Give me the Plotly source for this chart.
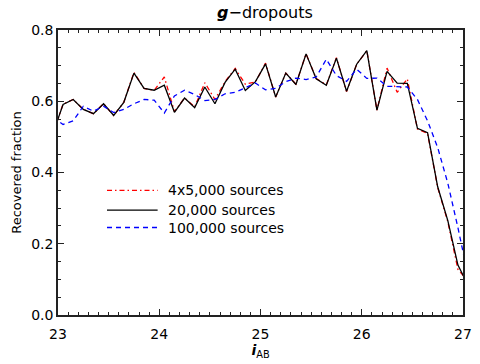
import plotly.graph_objects as go

# Magnitude bin centres (0.1 mag bins); the outermost bins fall just outside the axis range
mag = [22.95, 23.05, 23.15, 23.25, 23.35, 23.45, 23.55, 23.65, 23.75, 23.85,
       23.95, 24.05, 24.15, 24.25, 24.35, 24.45, 24.55, 24.65, 24.75, 24.85,
       24.95, 25.05, 25.15, 25.25, 25.35, 25.45, 25.55, 25.65, 25.75, 25.85,
       25.95, 26.05, 26.15, 26.25, 26.35, 26.45, 26.55, 26.65, 26.75, 26.85,
       26.95, 27.05]

# Recovered fraction for three simulation setups
frac_4x5000 = [0.51, 0.592, 0.605, 0.577, 0.565, 0.593, 0.560, 0.597, 0.681, 0.636,
               0.631, 0.668, 0.571, 0.609, 0.584, 0.652, 0.605, 0.655, 0.692, 0.648,
               0.654, 0.707, 0.612, 0.679, 0.648, 0.733, 0.664, 0.646, 0.722, 0.627,
               0.704, 0.742, 0.575, 0.693, 0.625, 0.663, 0.522, 0.510, 0.358, 0.262,
               0.128, 0.095]

frac_20000 = [0.51, 0.591, 0.605, 0.577, 0.565, 0.593, 0.560, 0.597, 0.679, 0.636,
              0.631, 0.645, 0.569, 0.609, 0.582, 0.640, 0.593, 0.653, 0.690, 0.630,
              0.655, 0.705, 0.612, 0.679, 0.647, 0.733, 0.663, 0.645, 0.721, 0.628,
              0.704, 0.742, 0.575, 0.684, 0.651, 0.650, 0.524, 0.512, 0.360, 0.265,
              0.140, 0.084]

frac_100000 = [0.555, 0.535, 0.545, 0.586, 0.572, 0.586, 0.568, 0.577, 0.593, 0.605,
               0.603, 0.567, 0.615, 0.631, 0.619, 0.602, 0.605, 0.621, 0.625, 0.637,
               0.651, 0.632, 0.636, 0.655, 0.665, 0.661, 0.668, 0.718, 0.672, 0.656,
               0.690, 0.664, 0.665, 0.642, 0.642, 0.640, 0.605, 0.545, 0.470, 0.370,
               0.245, 0.110]

series_names = ["4x5,000 sources", "20,000 sources", "100,000 sources"]
series_colors = ["#ff0000", "#000000", "#0000ff"]
series_dash = ["5px,3px,1.5px,3px", "solid", "5px,4px"]

FONT = "DejaVu Sans"

fig = go.Figure()
for ys, name, col, dash in zip([frac_4x5000, frac_20000, frac_100000],
                               series_names, series_colors, series_dash):
    fig.add_trace(go.Scatter(x=mag, y=ys, mode="lines", name=name,
                             line=dict(color=col, width=1.3, dash=dash),
                             showlegend=False))

# Hand-built legend inside the plot area
legend_y = [0.437, 0.368, 0.307]
for name, col, dash, yy in zip(series_names, series_colors, series_dash, legend_y):
    fig.add_shape(type="line", xref="paper", yref="paper",
                  x0=0.121, x1=0.246, y0=yy, y1=yy,
                  line=dict(color=col, width=1.3, dash=dash))
    fig.add_annotation(xref="paper", yref="paper", x=0.266, y=yy,
                       text=name, showarrow=False, xanchor="left", yanchor="middle",
                       font=dict(family=FONT, size=14, color="black"))

axis_common = dict(
    showline=True, linecolor="#222222", linewidth=1.5, mirror="allticks",
    ticks="inside", ticklen=6, tickwidth=1, tickcolor="#222222",
    showgrid=False, zeroline=False,
    tickfont=dict(family=FONT, size=14, color="black"),
)

fig.update_xaxes(range=[23, 27], tickvals=[23, 24, 25, 26, 27],
                 ticklabelstandoff=5,
                 minor=dict(dtick=0.1, ticks="inside", ticklen=3, tickcolor="#222222"),
                 title=dict(text="<b><i>i</i></b><sub>AB</sub>", standoff=5,
                            font=dict(family=FONT, size=14, color="black")),
                 **axis_common)
fig.update_yaxes(range=[0, 0.8], tickvals=[0.0, 0.2, 0.4, 0.6, 0.8], tickformat=".1f",
                 minor=dict(dtick=0.05, ticks="inside", ticklen=3, tickcolor="#222222"),
                 title=dict(text="Recovered fraction", standoff=7,
                            font=dict(family=FONT, size=13, color="black")),
                 **axis_common)

fig.update_layout(
    width=480, height=364,
    margin=dict(l=58, r=8, t=30, b=47),
    paper_bgcolor="white", plot_bgcolor="white",
    title=dict(text="<b><i>g</i></b>\u2212dropouts", x=0.552, xanchor="center",
               y=0.965, yanchor="middle",
               font=dict(family=FONT, size=16, color="black")),
)

fig.write_html("out.html")
